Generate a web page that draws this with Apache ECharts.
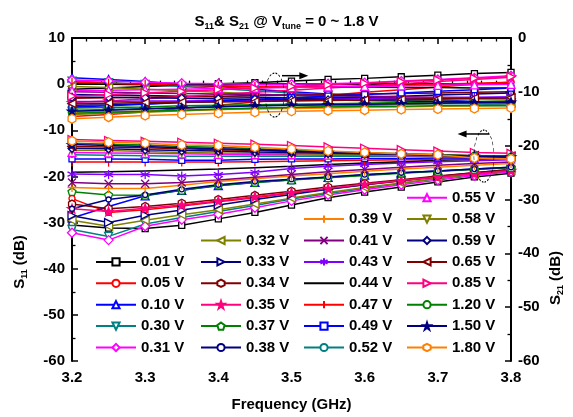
<!DOCTYPE html>
<html lang="en" style="height: 100%">
<head>
    <meta charset="utf-8">
</head>
<body style="height: 100%; margin: 0; background: #fff">
<div id="container" style="width: 573px; height: 417px"></div>
<script type="text/javascript" src="https://fastly.jsdelivr.net/npm/echarts@6/dist/echarts.min.js"></script>
<script type="text/javascript">

    // frequency points (GHz)
    const freq = [3.2, 3.25, 3.3, 3.35, 3.4, 3.45, 3.5, 3.55, 3.6, 3.65, 3.7, 3.75, 3.8];

    // tuning voltages, in legend order
    const voltages = ['0.01 V', '0.05 V', '0.10 V', '0.30 V', '0.31 V', '0.32 V', '0.33 V', '0.34 V',
        '0.35 V', '0.37 V', '0.38 V', '0.39 V', '0.41 V', '0.43 V', '0.44 V', '0.47 V', '0.49 V',
        '0.52 V', '0.55 V', '0.58 V', '0.59 V', '0.65 V', '0.85 V', '1.20 V', '1.50 V', '1.80 V'];

    // S11 (dB), one row per voltage
    const s11 = [
        [-30.5, -31.2, -31.3, -30.6, -29.2, -27.8, -26.2, -24.6, -23.4, -22.3, -21.2, -20.1, -19.3],
        [-24.8, -27.8, -27.2, -26.4, -25.5, -24.6, -23.6, -22.7, -21.8, -21.0, -20.2, -19.4, -18.7],
        [-29.0, -26.5, -24.2, -23.0, -22.0, -21.3, -20.7, -20.2, -19.7, -19.2, -18.8, -18.4, -18.0],
        [-31.5, -33.0, -30.3, -28.9, -27.6, -26.3, -24.9, -23.7, -22.6, -21.5, -20.5, -19.6, -18.8],
        [-32.2, -33.8, -30.8, -29.4, -28.2, -26.8, -25.3, -24.0, -22.9, -21.8, -20.8, -19.8, -19.0],
        [-29.5, -30.8, -29.5, -28.3, -27.2, -26.0, -24.7, -23.5, -22.4, -21.4, -20.4, -19.5, -18.7],
        [-28.5, -30.0, -28.4, -27.3, -26.2, -25.0, -23.9, -22.8, -21.8, -20.9, -20.0, -19.2, -18.5],
        [-26.0, -27.0, -26.5, -25.8, -25.0, -24.1, -23.2, -22.3, -21.5, -20.7, -19.9, -19.2, -18.5],
        [-27.0, -27.6, -26.9, -26.2, -25.3, -24.4, -23.5, -22.6, -21.7, -20.9, -20.1, -19.4, -18.7],
        [-23.3, -24.0, -24.1, -23.0, -21.9, -21.3, -20.8, -20.3, -19.8, -19.3, -18.9, -18.5, -18.1],
        [-27.0, -25.0, -24.0, -22.8, -21.8, -21.1, -20.6, -20.1, -19.6, -19.2, -18.8, -18.4, -18.0],
        [-22.4, -22.6, -22.6, -21.9, -21.1, -20.5, -19.9, -19.4, -18.9, -18.4, -18.0, -17.6, -17.2],
        [-21.3, -21.6, -21.6, -21.3, -20.8, -20.2, -19.6, -19.0, -18.5, -18.0, -17.6, -17.2, -16.9],
        [-19.5, -19.6, -19.6, -19.9, -19.6, -19.1, -18.3, -17.8, -17.4, -17.1, -16.8, -16.6, -16.4],
        [-19.1, -19.0, -18.8, -18.6, -18.4, -18.1, -17.8, -17.4, -17.1, -16.8, -16.5, -16.3, -16.0],
        [-16.9, -16.9, -16.9, -16.9, -16.9, -16.8, -16.7, -16.6, -16.5, -16.4, -16.3, -16.2, -16.1],
        [-16.2, -16.2, -16.3, -16.5, -16.5, -16.3, -16.2, -16.2, -16.1, -16.1, -16.0, -16.0, -15.9],
        [-15.3, -15.4, -15.5, -15.6, -15.6, -15.6, -15.6, -15.6, -15.6, -15.6, -15.6, -15.6, -15.6],
        [-14.8, -14.9, -15.0, -15.1, -15.2, -15.3, -15.3, -15.4, -15.4, -15.5, -15.5, -15.6, -15.6],
        [-14.3, -14.4, -14.6, -14.8, -14.9, -15.0, -15.1, -15.2, -15.3, -15.4, -15.5, -15.6, -15.7],
        [-13.9, -14.0, -14.2, -14.4, -14.5, -14.7, -14.8, -15.0, -15.1, -15.2, -15.4, -15.5, -15.6],
        [-13.5, -13.6, -13.8, -14.0, -14.2, -14.4, -14.6, -14.8, -15.0, -15.1, -15.3, -15.5, -15.6],
        [-12.0, -12.2, -12.4, -12.6, -12.8, -13.0, -13.3, -13.6, -13.9, -14.2, -14.5, -14.8, -15.0],
        [-12.8, -13.0, -13.2, -13.5, -13.7, -14.0, -14.3, -14.6, -14.9, -15.1, -15.3, -15.5, -15.7],
        [-13.1, -13.3, -13.5, -13.8, -14.0, -14.2, -14.5, -14.8, -15.0, -15.2, -15.4, -15.6, -15.8],
        [-12.3, -12.6, -12.8, -13.2, -13.3, -13.7, -14.05, -14.5, -14.8, -15.1, -15.3, -16.0, -16.2]
    ];

    // S21 (dB), one row per voltage
    const s21 = [
        [-9.5, -9.3, -9.0, -8.8, -8.5, -8.3, -8.0, -7.7, -7.5, -7.2, -6.9, -6.6, -6.4],
        [-14.6, -14.2, -13.7, -13.1, -12.5, -11.9, -11.3, -10.7, -10.1, -9.6, -9.1, -8.6, -8.2],
        [-7.4, -7.7, -8.1, -8.6, -9.0, -9.5, -10.0, -10.4, -10.8, -11.2, -11.5, -11.8, -12.0],
        [-8.0, -8.3, -8.6, -9.0, -9.4, -9.8, -10.2, -10.6, -11.0, -11.4, -11.8, -12.2, -12.5],
        [-7.8, -8.0, -8.2, -8.4, -8.5, -8.6, -8.6, -8.5, -8.3, -8.0, -7.7, -7.4, -7.0],
        [-9.0, -9.2, -9.5, -9.8, -10.1, -10.4, -10.7, -11.0, -11.2, -11.5, -11.7, -11.9, -12.1],
        [-10.5, -10.6, -10.7, -10.8, -10.9, -11.0, -11.1, -11.2, -11.2, -11.3, -11.3, -11.3, -11.3],
        [-11.2, -11.1, -11.0, -10.9, -10.8, -10.7, -10.6, -10.5, -10.4, -10.3, -10.2, -10.1, -10.0],
        [-12.0, -11.7, -11.3, -10.9, -10.5, -10.1, -9.7, -9.3, -8.9, -8.5, -8.1, -7.7, -7.3],
        [-13.0, -12.9, -12.8, -12.6, -12.5, -12.4, -12.3, -12.2, -12.1, -12.0, -11.9, -11.8, -11.7],
        [-12.5, -12.4, -12.2, -12.0, -11.8, -11.6, -11.4, -11.2, -11.0, -10.8, -10.6, -10.4, -10.2],
        [-13.8, -13.7, -13.6, -13.5, -13.3, -13.2, -13.1, -13.0, -12.9, -12.8, -12.7, -12.6, -12.5],
        [-10.0, -10.1, -10.2, -10.3, -10.4, -10.5, -10.6, -10.7, -10.8, -10.9, -11.0, -11.1, -11.2],
        [-11.8, -11.8, -11.7, -11.7, -11.6, -11.6, -11.5, -11.4, -11.3, -11.2, -11.1, -11.0, -10.9],
        [-8.5, -8.6, -8.7, -8.8, -8.9, -9.0, -9.0, -9.1, -9.1, -9.2, -9.2, -9.3, -9.3],
        [-8.2, -8.4, -8.6, -8.8, -8.9, -9.0, -9.0, -9.0, -8.9, -8.8, -8.6, -8.4, -8.2],
        [-12.8, -12.6, -12.3, -12.0, -11.7, -11.4, -11.1, -10.8, -10.5, -10.2, -9.9, -9.6, -9.3],
        [-13.4, -13.3, -13.1, -12.9, -12.7, -12.6, -12.5, -12.4, -12.3, -12.3, -12.2, -12.2, -12.2],
        [-9.8, -9.7, -9.6, -9.5, -9.4, -9.3, -9.2, -9.1, -9.0, -8.9, -8.8, -8.7, -8.6],
        [-14.2, -14.0, -13.8, -13.5, -13.3, -13.1, -12.9, -12.7, -12.5, -12.3, -12.1, -11.9, -11.7],
        [-11.0, -11.0, -11.1, -11.2, -11.3, -11.4, -11.5, -11.5, -11.6, -11.7, -11.8, -11.9, -12.0],
        [-12.2, -12.1, -12.0, -11.9, -11.9, -11.8, -11.7, -11.6, -11.5, -11.4, -11.3, -11.2, -11.1],
        [-10.8, -10.5, -10.2, -9.9, -9.6, -9.3, -9.0, -8.7, -8.4, -8.1, -7.8, -7.5, -7.2],
        [-14.0, -13.8, -13.6, -13.4, -13.2, -13.0, -12.9, -12.8, -12.7, -12.7, -12.6, -12.6, -12.6],
        [-13.6, -13.4, -13.2, -13.0, -12.8, -12.6, -12.5, -12.4, -12.3, -12.2, -12.1, -12.0, -11.9],
        [-15.0, -14.7, -14.4, -14.2, -14.0, -13.8, -13.6, -13.5, -13.4, -13.3, -13.2, -13.1, -13.0]
    ];

    // legend columns (indices into voltages)
    const legendColumns = [[0, 1, 2, 3, 4], [5, 6, 7, 8, 9, 10], [11, 12, 13, 14, 15, 16, 17],
        [18, 19, 20, 21, 22, 23, 24, 25]];
    const legendLeft = [95, 200, 303, 406];

    const FONT = '"Liberation Sans", Arial, sans-serif';

    // marker shapes
    const sym = {
        square: 'rect',
        circle: 'circle',
        tri: 'triangle',
        diamond: 'diamond',
        hex: 'path://M5,0 L9.33,2.5 L9.33,7.5 L5,10 L0.67,7.5 L0.67,2.5 Z',
        pent: 'path://M5,0 L10,3.6 L8.1,9.5 L1.9,9.5 L0,3.6 Z',
        star: 'path://M5,0 L6.2,3.6 L10,3.6 L6.9,5.9 L8.1,9.5 L5,7.3 L1.9,9.5 L3.1,5.9 L0,3.6 L3.8,3.6 Z',
        plus: 'path://M5,0 L5,10 M0,5 L10,5',
        cross: 'path://M0,0 L10,10 M10,0 L0,10',
        aster: 'path://M5,0 L5,10 M0,2.5 L10,7.5 M10,2.5 L0,7.5',
        bar: 'path://M5,0 L5,10 M0,5 L0,5 M10,5 L10,5'
    };

    // [color, symbol, rotate, size, filled]
    const styles = [
        ['#000000', sym.square, 0, 6, false],
        ['#ff0000', sym.circle, 0, 6, false],
        ['#0000ff', sym.tri, 0, 8, false],
        ['#008080', sym.tri, 180, 8, false],
        ['#ff00ff', sym.diamond, 0, 9, false],
        ['#808000', sym.tri, 90, 8, false],
        ['#000080', sym.tri, -90, 8, false],
        ['#800000', sym.hex, 0, 8, false],
        ['#ff0080', sym.star, 0, 9, true],
        ['#008000', sym.pent, 0, 8, false],
        ['#000080', sym.circle, 0, 5, false],
        ['#ff8000', sym.plus, 0, 9, false],
        ['#800080', sym.cross, 0, 8, false],
        ['#8000ff', sym.aster, 0, 9, false],
        ['#000000', 'none', 0, 0, false],
        ['#ff0000', sym.bar, 0, 9, false],
        ['#0000ff', sym.square, 0, 6, false],
        ['#008080', sym.circle, 0, 5, false],
        ['#ff00ff', sym.tri, 0, 8, false],
        ['#808000', sym.tri, 180, 8, false],
        ['#000080', sym.diamond, 0, 8, false],
        ['#800000', sym.tri, 90, 8, false],
        ['#ff0080', sym.tri, -90, 8, false],
        ['#008000', sym.circle, 0, 7, false],
        ['#000080', sym.star, 0, 9, true],
        ['#ff8000', sym.hex, 0, 9, false]
    ];

    // annotation anchors in data units: ellipses and arrows
    const s21Mark = {cx: 3.477, cy: -10.6, rx: 9.5, ry: 22, arrowFrom: [3.487, -7.0], arrowTo: [3.523, -7.0]};
    const s11Mark = {cx: 3.763, cy: -15.6, rx: 10, ry: 26, arrowFrom: [3.770, -10.8], arrowTo: [3.727, -10.8]};

    var dom = document.getElementById('container');
    var myChart = echarts.init(dom, null, {renderer: 'canvas'});

    function makeSeries(rows, axisIndex) {
        return rows.map((row, i) => {
            const st = styles[i];
            const noMarker = st[1] === 'none';
            return {
                name: voltages[i],
                type: 'line',
                yAxisIndex: axisIndex,
                data: row.map((v, k) => [freq[k], v]),
                symbol: noMarker ? 'circle' : st[1],
                symbolRotate: st[2],
                symbolSize: st[3],
                showSymbol: !noMarker,
                symbolKeepAspect: true,
                lineStyle: {color: st[0], width: 1.5},
                itemStyle: noMarker
                    ? {color: 'rgba(0,0,0,0)', borderColor: 'rgba(0,0,0,0)', borderWidth: 0}
                    : {color: st[4] ? st[0] : '#ffffff', borderColor: st[0], borderWidth: 1.3},
                emphasis: {disabled: true},
                z: 2
            };
        });
    }

    const axisFont = {color: '#000', fontSize: 15, fontWeight: 'bold', fontFamily: FONT};
    const sub = {fontSize: 9, fontWeight: 'bold', fontFamily: FONT, color: '#000', padding: [9, 0, 0, 0]};

    const option = {
        animation: false,
        backgroundColor: '#fff',
        title: {
            text: 'S{sub|11}& S{sub|21} @ V{sub|tune} = 0 ~ 1.8 V',
            left: 'center',
            top: 8,
            textStyle: {
                fontSize: 15, fontWeight: 'bold', fontFamily: FONT, color: '#000',
                rich: {sub: sub}
            }
        },
        legend: legendColumns.map((col, c) => ({
            orient: 'vertical',
            left: legendLeft[c],
            bottom: 62,
            padding: 0,
            itemWidth: 40,
            itemHeight: 9,
            itemGap: 6.4,
            selectedMode: false,
            data: col.map(i => voltages[i]),
            textStyle: {fontSize: 15, fontWeight: 'bold', fontFamily: FONT, color: '#000'}
        })),
        grid: {left: 72, right: 62, top: 38, bottom: 53},
        xAxis: [
            {
                type: 'value', min: 3.2, max: 3.8, interval: 0.1, position: 'bottom',
                name: 'Frequency (GHz)', nameLocation: 'middle', nameGap: 36,
                nameTextStyle: axisFont,
                axisLine: {lineStyle: {color: '#000', width: 2}},
                axisTick: {inside: true, length: 6, lineStyle: {width: 1.5, color: '#000'}},
                minorTick: {show: true, splitNumber: 5, length: 3.5, lineStyle: {width: 1.3, color: '#000'}},
                axisLabel: Object.assign({margin: 9, formatter: v => v.toFixed(1)}, axisFont),
                splitLine: {show: false}
            },
            {
                type: 'value', min: 3.2, max: 3.8, interval: 0.1, position: 'top',
                axisLine: {lineStyle: {color: '#000', width: 2}},
                axisTick: {inside: true, length: 6, lineStyle: {width: 1.5, color: '#000'}},
                minorTick: {show: true, splitNumber: 5, length: 3.5, lineStyle: {width: 1.3, color: '#000'}},
                axisLabel: {show: false},
                splitLine: {show: false}
            }
        ],
        yAxis: [
            {
                type: 'value', min: -60, max: 10, interval: 10, position: 'left',
                axisLine: {show: true, lineStyle: {color: '#000', width: 2}},
                axisTick: {inside: true, length: 6, lineStyle: {width: 1.5, color: '#000'}},
                minorTick: {show: true, splitNumber: 2, length: 3.5, lineStyle: {width: 1.3, color: '#000'}},
                axisLabel: Object.assign({margin: 7}, axisFont),
                splitLine: {show: false}
            },
            {
                type: 'value', min: -60, max: 0, interval: 10, position: 'right',
                axisLine: {show: true, lineStyle: {color: '#000', width: 2}},
                axisTick: {inside: true, length: 6, lineStyle: {width: 1.5, color: '#000'}},
                minorTick: {show: true, splitNumber: 2, length: 3.5, lineStyle: {width: 1.3, color: '#000'}},
                axisLabel: Object.assign({margin: 7}, axisFont),
                splitLine: {show: false}
            }
        ],
        series: makeSeries(s21, 1).concat(makeSeries(s11, 0))
    };

    myChart.setOption(option);

    // annotations and rotated axis titles placed through the axes
    function px(xv, yv, yIdx) {
        return [
            myChart.convertToPixel({xAxisIndex: 0}, xv),
            myChart.convertToPixel({yAxisIndex: yIdx}, yv)
        ];
    }

    function arrow(from, to) {
        const dir = Math.sign(to[0] - from[0]);
        return [
            {type: 'line', shape: {x1: from[0], y1: from[1], x2: to[0] - dir * 6, y2: to[1]},
                style: {stroke: '#000', lineWidth: 1.5}, z: 100},
            {type: 'polygon', shape: {points: [[to[0], to[1]], [to[0] - dir * 9, to[1] - 3.5], [to[0] - dir * 9, to[1] + 3.5]]},
                style: {fill: '#000'}, z: 100}
        ];
    }

    function ellipse(m, yIdx) {
        const c = px(m.cx, m.cy, yIdx);
        return {
            type: 'circle', x: c[0], y: c[1], scaleX: m.rx / m.ry,
            shape: {cx: 0, cy: 0, r: m.ry},
            style: {fill: 'none', stroke: '#000', lineWidth: 1.3, lineDash: [4, 3], strokeNoScale: true},
            z: 100
        };
    }

    const a1 = px(s21Mark.arrowFrom[0], s21Mark.arrowFrom[1], 1);
    const a2 = px(s21Mark.arrowTo[0], s21Mark.arrowTo[1], 1);
    const b1 = px(s11Mark.arrowFrom[0], s11Mark.arrowFrom[1], 0);
    const b2 = px(s11Mark.arrowTo[0], s11Mark.arrowTo[1], 0);

    const subRich = {sub: {font: 'bold 9px ' + FONT, fill: '#000', padding: [9, 0, 0, 0]}};

    myChart.setOption({
        graphic: [
            ellipse(s21Mark, 1),
            ellipse(s11Mark, 0)
        ].concat(arrow(a1, a2), arrow(b1, b2), [
            {
                type: 'text', x: 20, y: 262, rotation: Math.PI / 2,
                style: {
                    text: 'S{sub|11} (dB)', fill: '#000', font: 'bold 15px ' + FONT,
                    align: 'center', verticalAlign: 'middle', rich: subRich
                }
            },
            {
                type: 'text', x: 556, y: 278, rotation: Math.PI / 2,
                style: {
                    text: 'S{sub|21} (dB)', fill: '#000', font: 'bold 15px ' + FONT,
                    align: 'center', verticalAlign: 'middle', rich: subRich
                }
            }
        ])
    });

</script>
</body>
</html>
